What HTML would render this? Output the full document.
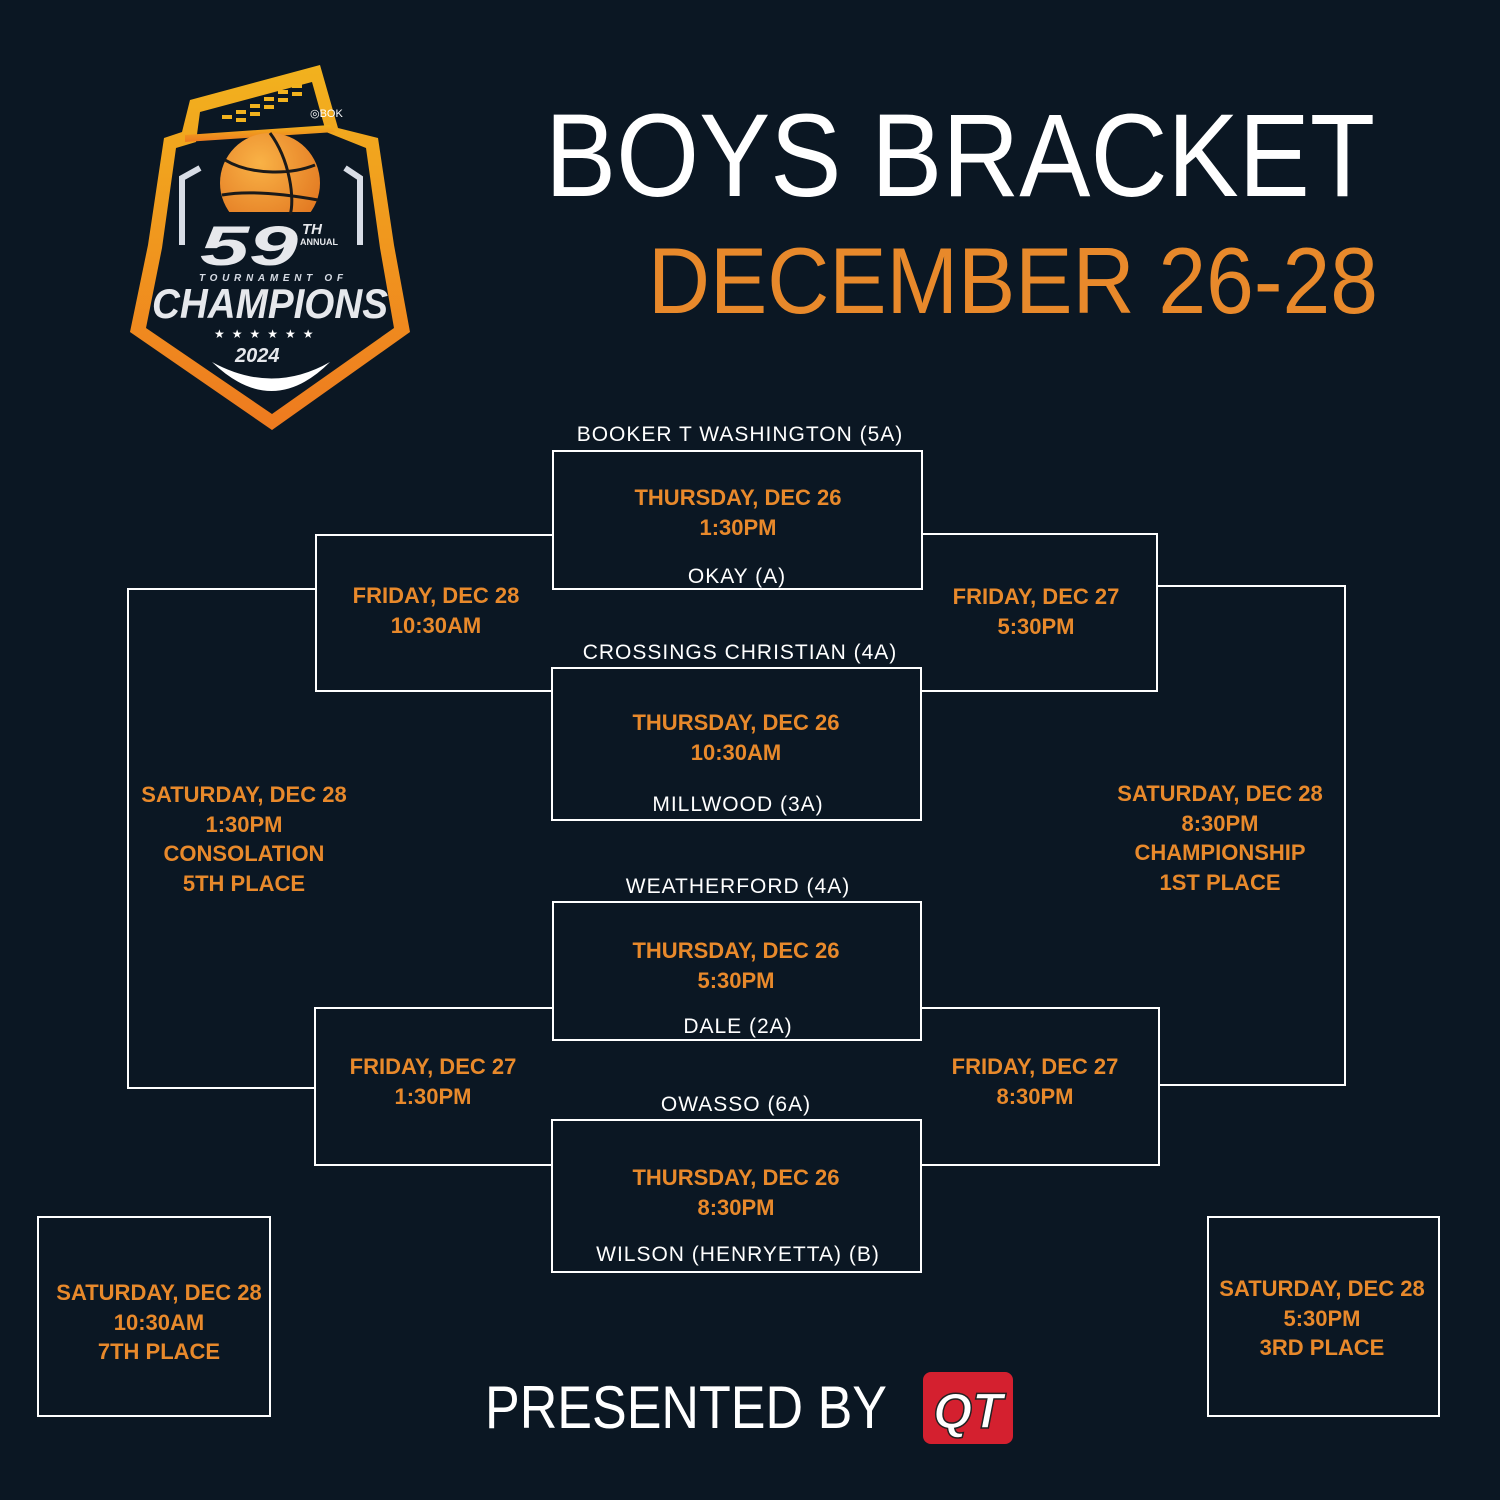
<!DOCTYPE html>
<html><head><meta charset="utf-8"><style>
html,body{margin:0;padding:0;background:#0b1723;}
svg{display:block}
</style></head><body>
<svg width="1500" height="1500" viewBox="0 0 1500 1500" xmlns="http://www.w3.org/2000/svg">
<defs>
<linearGradient id="og" x1="0" y1="0" x2="0" y2="1"><stop offset="0" stop-color="#f2b21e"/><stop offset="1" stop-color="#ee7a1f"/></linearGradient>
<radialGradient id="ball" cx="0.4" cy="0.3" r="0.8"><stop offset="0" stop-color="#f9b246"/><stop offset="1" stop-color="#e0721d"/></radialGradient>
</defs>
<rect width="1500" height="1500" fill="#0b1723"/>

<!-- Logo -->
<polygon points="190,100 320,65 338,128 378,138 394,245 410,332 272,430 130,332 148,245 164,138 182,132" fill="url(#og)"/>
<polygon points="200,112 312,82 326,132 366,148 380,248 394,328 272,414 146,328 162,248 176,148 196,142" fill="#0b1723"/>
<polygon points="185,135 330,125 335,132 185,142" fill="url(#og)"/>
<g fill="#f2b21e">
<rect x="222" y="115" width="10" height="4"/><rect x="236" y="110" width="10" height="4"/><rect x="250" y="104" width="10" height="4"/>
<rect x="264" y="97" width="10" height="4"/><rect x="278" y="90" width="10" height="4"/><rect x="292" y="84" width="10" height="4"/>
<rect x="236" y="118" width="10" height="4"/><rect x="250" y="112" width="10" height="4"/><rect x="264" y="105" width="10" height="4"/><rect x="278" y="98" width="10" height="4"/><rect x="292" y="92" width="10" height="4"/>
</g>
<text x="310" y="117" font-family="Liberation Sans,sans-serif" font-size="11" fill="#fff">◎BOK</text>
<circle cx="270" cy="183" r="50" fill="url(#ball)"/>
<rect x="200" y="212" width="140" height="30" fill="#0b1723"/>
<path d="M225,160 C250,175 290,175 315,165 M270,133 C290,160 295,200 290,215 M222,195 C250,190 290,195 318,200" stroke="#1a1a1a" stroke-width="3" fill="none"/>
<path d="M200,168 L182,178 L182,245 M345,168 L360,178 L360,245" stroke="#d8dde6" stroke-width="6" fill="none"/>
<text x="200" y="265" font-family="Liberation Sans,sans-serif" font-weight="bold" font-style="italic" font-size="56" fill="#e6e8ec" textLength="98" lengthAdjust="spacingAndGlyphs">59</text>
<text x="302" y="234" font-family="Liberation Sans,sans-serif" font-weight="bold" font-style="italic" font-size="15" fill="#e6e8ec">TH</text>
<text x="300" y="245" font-family="Liberation Sans,sans-serif" font-weight="bold" font-size="9" fill="#e6e8ec">ANNUAL</text>
<text x="199" y="281" font-family="Liberation Sans,sans-serif" font-weight="bold" font-style="italic" font-size="10" fill="#d8dde6" textLength="144" lengthAdjust="spacing">TOURNAMENT OF</text>
<text x="152" y="318" font-family="Liberation Sans,sans-serif" font-weight="bold" font-style="italic" font-size="42" fill="#e6e8ec" textLength="236" lengthAdjust="spacingAndGlyphs">CHAMPIONS</text>
<text x="214" y="338" font-family="Liberation Sans,sans-serif" font-size="12" fill="#fff" letter-spacing="7">★★★★★★</text>
<text x="235" y="362" font-family="Liberation Sans,sans-serif" font-weight="bold" font-style="italic" font-size="20" fill="#e6e8ec">2024</text>
<path d="M212,362 Q272,420 330,362 Q272,395 212,362 Z" fill="#fff"/>

<!-- Title -->
<text x="545" y="196" font-family="Liberation Sans,sans-serif" font-size="118" fill="#fff" textLength="830" lengthAdjust="spacingAndGlyphs">BOYS BRACKET</text>
<text x="648" y="313" font-family="Liberation Sans,sans-serif" font-size="94" fill="#e8892b" textLength="730" lengthAdjust="spacingAndGlyphs">DECEMBER 26-28</text>

<!-- Bracket lines -->
<g fill="none" stroke="#fff" stroke-width="2">
<rect x="553" y="451" width="369" height="138"/>
<rect x="552" y="668" width="369" height="152"/>
<rect x="553" y="902" width="368" height="138"/>
<rect x="552" y="1120" width="369" height="152"/>
<polyline points="553,535 316,535 316,691 552,691"/>
<polyline points="922,534 1157,534 1157,691 921,691"/>
<polyline points="552,1008 315,1008 315,1165 552,1165"/>
<polyline points="921,1008 1159,1008 1159,1165 921,1165"/>
<polyline points="316,589 128,589 128,1088 315,1088"/>
<polyline points="1157,586 1345,586 1345,1085 1159,1085"/>
<rect x="38" y="1217" width="232" height="199"/>
<rect x="1208" y="1217" width="231" height="199"/>
</g>

<!-- Team names -->
<g font-family="Liberation Sans,sans-serif" font-size="21" fill="#fff" text-anchor="middle" letter-spacing="1">
<text x="740" y="441">BOOKER T WASHINGTON (5A)</text>
<text x="737" y="583">OKAY (A)</text>
<text x="740" y="659">CROSSINGS CHRISTIAN (4A)</text>
<text x="738" y="811">MILLWOOD (3A)</text>
<text x="738" y="893">WEATHERFORD (4A)</text>
<text x="738" y="1033">DALE (2A)</text>
<text x="736" y="1111">OWASSO (6A)</text>
<text x="738" y="1261">WILSON (HENRYETTA) (B)</text>
</g>

<!-- Game labels -->
<g font-family="Liberation Sans,sans-serif" font-weight="bold" font-size="22" fill="#e8892b" text-anchor="middle">
<text x="738" y="505">THURSDAY, DEC 26</text><text x="738" y="535">1:30PM</text>
<text x="736" y="730">THURSDAY, DEC 26</text><text x="736" y="760">10:30AM</text>
<text x="736" y="958">THURSDAY, DEC 26</text><text x="736" y="988">5:30PM</text>
<text x="736" y="1185">THURSDAY, DEC 26</text><text x="736" y="1215">8:30PM</text>
<text x="436" y="603">FRIDAY, DEC 28</text><text x="436" y="633">10:30AM</text>
<text x="1036" y="604">FRIDAY, DEC 27</text><text x="1036" y="634">5:30PM</text>
<text x="433" y="1074">FRIDAY, DEC 27</text><text x="433" y="1104">1:30PM</text>
<text x="1035" y="1074">FRIDAY, DEC 27</text><text x="1035" y="1104">8:30PM</text>
<text x="244" y="802">SATURDAY, DEC 28</text><text x="244" y="832">1:30PM</text><text x="244" y="861">CONSOLATION</text><text x="244" y="891">5TH PLACE</text>
<text x="1220" y="801">SATURDAY, DEC 28</text><text x="1220" y="831">8:30PM</text><text x="1220" y="860">CHAMPIONSHIP</text><text x="1220" y="890">1ST PLACE</text>
<text x="159" y="1300">SATURDAY, DEC 28</text><text x="159" y="1330">10:30AM</text><text x="159" y="1359">7TH PLACE</text>
<text x="1322" y="1296">SATURDAY, DEC 28</text><text x="1322" y="1326">5:30PM</text><text x="1322" y="1355">3RD PLACE</text>
</g>

<!-- Presented by -->
<text x="485" y="1428" font-family="Liberation Sans,sans-serif" font-size="60" fill="#fff" textLength="402" lengthAdjust="spacingAndGlyphs">PRESENTED BY</text>
<rect x="923" y="1372" width="90" height="72" rx="8" fill="#d4202f"/>
<text x="968" y="1428" font-family="Liberation Sans,sans-serif" font-weight="bold" font-style="italic" font-size="50" fill="#fff" stroke="#222" stroke-width="1.5" text-anchor="middle">QT</text>
</svg>
</body></html>
